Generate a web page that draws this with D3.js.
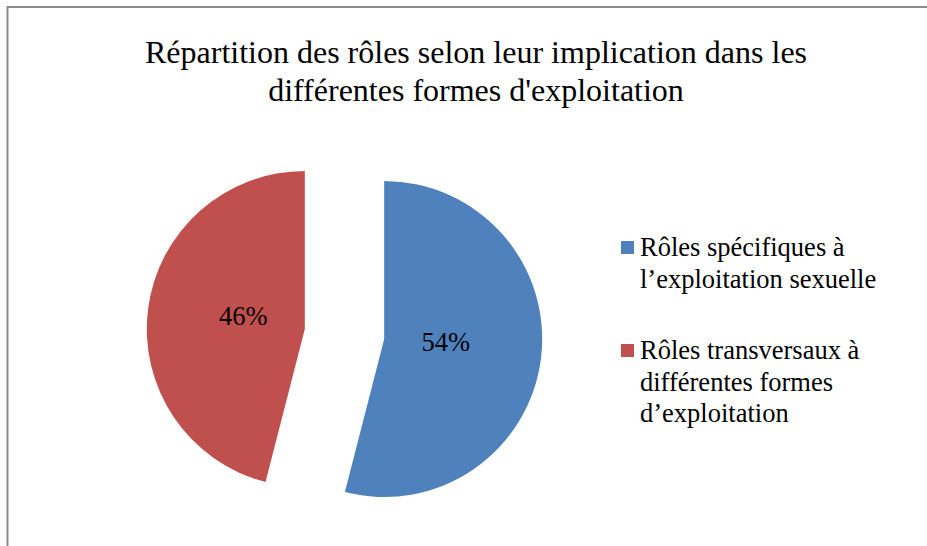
<!DOCTYPE html>
<html>
<head>
<meta charset="utf-8">
<script src="https://cdn.jsdelivr.net/npm/d3@7"></script>
<style>
  html, body { margin: 0; padding: 0; background: #fff; }
  svg { display: block; }
</style>
</head>
<body>
<div id="chart"></div>
<script>
// Chart data
const categories = [
    "Rôles spécifiques à l’exploitation sexuelle",
    "Rôles transversaux à différentes formes d’exploitation"
];
const values = [54, 46];
const legendLines = [
    ["Rôles spécifiques à", "l’exploitation sexuelle"],
    ["Rôles transversaux à", "différentes formes", "d’exploitation"]
];
const titleLines = [
    "Répartition des rôles selon leur implication dans les",
    "différentes formes d'exploitation"
];
const colors = ["#4F81BD", "#C0504D"];

const FONT = "Liberation Serif";
const K = 2; // text drawn at half size and scaled up (keeps the serif face at large sizes)
const width = 927, height = 546;
const cx = 344.5, cy = 334;   // pie centre
const radius = 158;
const explode = 40;

const svg = d3.select("#chart").append("svg")
    .attr("width", width)
    .attr("height", height);

// Chart frame (cut off at right/bottom like the original)
svg.append("rect")
    .attr("x", 7.5).attr("y", 7)
    .attr("width", width + 10).attr("height", height + 10)
    .attr("fill", "#fff")
    .attr("stroke", "#8c8c8c")
    .attr("stroke-width", 2);

// Title
svg.append("text")
    .attr("transform", `translate(476,63) scale(${K})`)
    .style("font-family", FONT)
    .attr("text-anchor", "middle")
    .attr("font-size", 32 / K)
    .attr("fill", "#000")
    .selectAll("tspan")
    .data(titleLines)
    .join("tspan")
    .attr("x", 0)
    .attr("y", (d, i) => i * 38 / K)
    .text(d => d);

// Pie
const pie = d3.pie().sort(null).value(d => d);
const arcs = pie(values);
const arc = d3.arc().innerRadius(0).outerRadius(radius);
const labelArc = d3.arc().innerRadius(62).outerRadius(62);

const g = svg.append("g").attr("transform", `translate(${cx},${cy})`);

const slice = g.selectAll("g.slice")
    .data(arcs)
    .join("g")
    .attr("class", "slice")
    .attr("transform", d => {
        const a = (d.startAngle + d.endAngle) / 2;
        return `translate(${Math.sin(a) * explode},${-Math.cos(a) * explode})`;
    });

slice.append("path")
    .attr("d", arc)
    .attr("fill", (d, i) => colors[i]);

slice.append("text")
    .style("font-family", FONT)
    .attr("transform", d => {
        const [x, y] = labelArc.centroid(d);
        return `translate(${x},${y - 5}) scale(${K})`;
    })
    .attr("text-anchor", "middle")
    .attr("dominant-baseline", "central")
    .attr("font-size", 26.5 / K)
    .attr("fill", "#000")
    .text(d => Math.round(d.value / d3.sum(values) * 100) + "%");

// Legend
const legendY = [248, 351];
const legend = svg.selectAll("g.legend")
    .data(categories)
    .join("g")
    .attr("class", "legend")
    .attr("transform", (d, i) => `translate(621,${legendY[i]})`);

legend.append("rect")
    .attr("x", 0).attr("y", -7)
    .attr("width", 13).attr("height", 13)
    .attr("fill", (d, i) => colors[i]);

legend.append("text")
    .attr("transform", `translate(19,8) scale(${K})`)
    .style("font-family", FONT)
    .attr("font-size", 26.5 / K)
    .attr("fill", "#000")
    .selectAll("tspan")
    .data((d, i) => legendLines[i])
    .join("tspan")
    .attr("x", 0)
    .attr("y", (d, i) => i * 31.5 / K)
    .text(d => d);
</script>
</body>
</html>
